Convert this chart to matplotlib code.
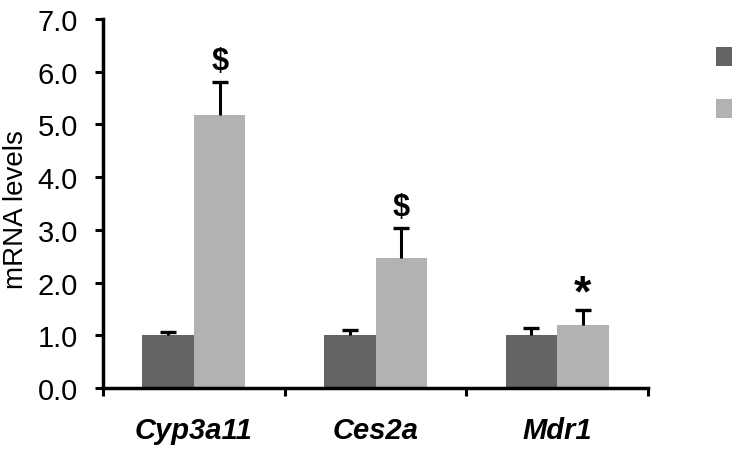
import matplotlib
matplotlib.use("Agg")
import matplotlib.pyplot as plt
from matplotlib.patches import Patch
import numpy as np

categories = ["Cyp3a11", "Ces2a", "Mdr1"]
control_vals = [1.00, 1.00, 1.00]
control_err = [0.07, 0.10, 0.13]
treated_vals = [5.18, 2.46, 1.20]
treated_err = [0.62, 0.57, 0.28]
markers = ["$", "$", "*"]
yticks = [0.0, 1.0, 2.0, 3.0, 4.0, 5.0, 6.0, 7.0]

plt.rcParams['font.family'] = ['Liberation Sans', 'DejaVu Sans']

fig = plt.figure(figsize=(7.32, 4.77), dpi=100)
ax = fig.add_axes([103/732, 1-389/477, (648-103)/732, (389-20)/477])

x = np.arange(len(categories))
w = 0.284
dark = "#646464"
light = "#b2b2b2"

def upper_err(xs, vals, errs):
    vals = np.asarray(vals)
    tops = vals + np.asarray(errs)
    ax.vlines(xs, vals, tops, color="black", linewidth=2.2, zorder=3)
    ax.plot(xs, tops, linestyle="none", marker="_", markersize=12,
            markeredgewidth=2.4, color="black", zorder=3)

ax.bar(x - w/2, control_vals, w, color=dark, zorder=2)
ax.bar(x + w/2, treated_vals, w, color=light, zorder=2)
upper_err(x - w/2, control_vals, control_err)
upper_err(x + w/2, treated_vals, treated_err)

for i, m in enumerate(markers):
    top = treated_vals[i] + treated_err[i]
    if m == "*":
        ax.text(x[i] + w/2, top - 0.08, m, ha="center", va="bottom",
                fontsize=32, fontweight="bold")
    else:
        ax.text(x[i] + w/2, top + 0.12, m, ha="center", va="bottom",
                fontsize=22, fontweight="bold")

ax.set_xlim(-0.5, 2.5)
ax.set_ylim(0, 7.0)
ax.set_yticks(yticks)
ax.set_yticklabels([f"{v:.1f}" for v in yticks])
ax.set_xticks(x)
ax.set_xticklabels(categories, fontsize=21, fontweight="bold", fontstyle="italic")
ax.set_xticks([-0.5, 0.5, 1.5, 2.5], minor=True)
ax.tick_params(axis="x", which="major", length=0, pad=20)
ax.tick_params(axis="x", which="minor", length=6, width=2.2, direction="out")
ax.tick_params(axis="y", length=6, width=2.2, direction="out", labelsize=21, pad=12)

for s in ["top", "right"]:
    ax.spines[s].set_visible(False)
for s in ["left", "bottom"]:
    ax.spines[s].set_linewidth(2.5)
    ax.spines[s].set_color("black")

ax.set_ylabel("mRNA levels", fontsize=20)
ax.yaxis.set_label_coords(-0.135, 0.485)

handles = [Patch(facecolor=dark), Patch(facecolor=light)]
fig.legend(handles, ["", ""], loc="upper left",
           bbox_to_anchor=(716/732, 1-47/477), frameon=False, fontsize=20,
           handlelength=0.7, handleheight=0.65, labelspacing=0.95,
           borderaxespad=0, borderpad=0, handletextpad=0.5)

fig.savefig("out.png", dpi=100)
